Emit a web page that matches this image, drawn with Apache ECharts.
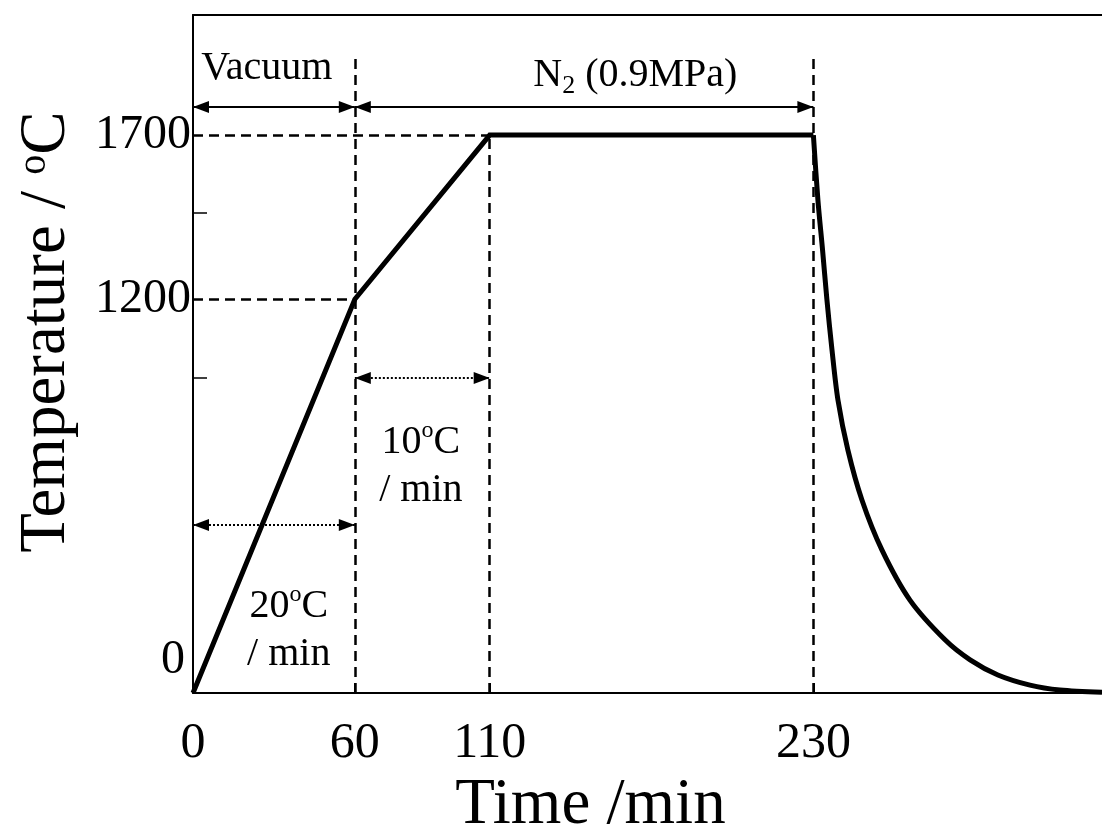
<!DOCTYPE html>
<html>
<head>
<meta charset="utf-8">
<script src="https://cdn.jsdelivr.net/npm/echarts@6/dist/echarts.min.js"></script>
<style>
  html, body { margin: 0; padding: 0; background: #fff; }
  #main { width: 1102px; height: 834px; }
</style>
</head>
<body>
<div id="main"></div>
<script>
// tick labels
var timeTicks = [0, 60, 110, 230];
var tempTicks = [0, 1200, 1700];
var tempMinorTicks = [960, 1462];

// heating: ramp 20 C/min, ramp 10 C/min, hold
var heatTime = [0, 60, 110, 230];
var heatTemp = [0, 1200, 1700, 1700];

// cooling curve
var coolTime = [230, 231.7, 233.4, 235, 236.9, 239.1, 242.8, 248, 255.4, 265.8, 278.8, 288.1, 298.4, 310.3, 321.4, 337];
var coolTemp = [1700, 1500, 1350, 1200, 1045, 893, 740, 588, 436, 283, 162, 101, 55, 24, 9, 2];

// dashed guide lines (from -> to)
var guideX1 = [0, 0, 60, 110, 230];
var guideY1 = [1700, 1200, 0, 0, 0];
var guideX2 = [110, 60, 60, 110, 230];
var guideY2 = [1700, 1200, 1938, 1700, 1944];

// range arrows
var arrowFrom = [0, 60, 60, 0];
var arrowTo = [60, 230, 110, 60];
var arrowTemp = [1786, 1786, 960, 512];
var arrowType = ['solid', 'solid', 'dotted', 'dotted'];

// text notes
var noteText = ['Vacuum', '{n|N}{sub|2}{n| (0.9MPa)}', '{n|10}{sup|o}{n|C}\n{n|/ min}', '{n|20}{sup|o}{n|C}\n{n|/ min}'];
var noteTime = [27.4, 164, 84.5, 35.5];
var noteTemp = [1904, 1883, 690, 190];

var serif = '"Liberation Serif", "Times New Roman", serif';

function pairs(xs, ys) {
    return xs.map(function (x, i) { return [x, ys[i]]; });
}

var guideData = guideX1.map(function (x, i) {
    return [{coord: [x, guideY1[i]]}, {coord: [guideX2[i], guideY2[i]]}];
});

var arrowData = arrowFrom.map(function (x, i) {
    return [
        {coord: [x, arrowTemp[i]], lineStyle: {type: arrowType[i], width: 2}},
        {coord: [arrowTo[i], arrowTemp[i]]}
    ];
});

var noteRich = {
    n: {fontFamily: serif, fontSize: 40, color: '#000', lineHeight: 48},
    sup: {fontFamily: serif, fontSize: 24, color: '#000', verticalAlign: 'top', lineHeight: 48},
    sub: {fontFamily: serif, fontSize: 26, color: '#000', verticalAlign: 'bottom', lineHeight: 40}
};

var chart = echarts.init(document.getElementById('main'));

var option = {
    animation: false,
    backgroundColor: '#fff',
    grid: {left: 193, right: 0, top: 15, bottom: 141, outerBoundsMode: 'none', containLabel: false},
    xAxis: [
        {
            type: 'value',
            min: 0,
            max: 337,
            name: 'Time /min',
            nameLocation: 'middle',
            nameGap: 77,
            nameTextStyle: {fontFamily: serif, fontSize: 65, color: '#000', padding: [0, 114, 0, 0]},
            axisLine: {show: true, lineStyle: {color: '#000', width: 2}},
            axisTick: {show: true, inside: true, length: 10, customValues: [60, 110, 230], lineStyle: {color: '#000', width: 2}},
            axisLabel: {customValues: timeTicks, fontFamily: serif, fontSize: 50, color: '#000', margin: 26},
            splitLine: {show: false}
        },
        {
            type: 'value',
            position: 'top',
            min: 0,
            max: 337,
            axisLine: {show: true, lineStyle: {color: '#000', width: 2}},
            axisTick: {show: false},
            axisLabel: {show: false},
            splitLine: {show: false}
        }
    ],
    yAxis: {
        type: 'value',
        min: 0,
        max: 2066,
        name: 'Temperature / {sup|o}C',
        nameLocation: 'middle',
        nameRotate: 90,
        nameGap: 114,
        nameTextStyle: {
            fontFamily: serif, fontSize: 65, color: '#000', padding: [0, 0, 0, 44],
            rich: {sup: {fontFamily: serif, fontSize: 40, color: '#000', verticalAlign: 'top'}}
        },
        axisLine: {show: true, lineStyle: {color: '#000', width: 2}},
        axisTick: {show: true, inside: true, length: 14, customValues: tempMinorTicks, lineStyle: {color: '#000', width: 1.5}},
        axisLabel: {
            customValues: tempTicks,
            fontFamily: serif, fontSize: 48, color: '#000', margin: 2,
            formatter: function (v) { return v === 0 ? '{zero|0}' : String(v); },
            rich: {zero: {fontFamily: serif, fontSize: 48, color: '#000', padding: [0, 6, 66, 0]}}
        },
        splitLine: {show: false}
    },
    series: [
        {
            name: 'guides',
            type: 'line',
            data: [],
            z: 1,
            markLine: {
                silent: true,
                symbol: 'none',
                label: {show: false},
                lineStyle: {color: '#000', width: 2.5, type: [10, 6]},
                data: guideData
            }
        },
        {
            name: 'arrows',
            type: 'line',
            data: [],
            z: 2,
            markLine: {
                silent: true,
                symbol: ['triangle', 'triangle'],
                symbolSize: [12, 16],
                symbolOffset: [[0, 8], [0, 8]],
                label: {show: false},
                lineStyle: {color: '#000', width: 2, type: 'solid'},
                itemStyle: {color: '#000'},
                data: arrowData
            }
        },
        {
            name: 'heating',
            type: 'line',
            data: pairs(heatTime, heatTemp),
            showSymbol: false,
            z: 3,
            lineStyle: {color: '#000', width: 5, join: 'miter'}
        },
        {
            name: 'cooling',
            type: 'line',
            data: pairs(coolTime, coolTemp),
            showSymbol: false,
            smooth: 0.3,
            z: 3,
            lineStyle: {color: '#000', width: 5}
        },
        {
            name: 'notes',
            type: 'scatter',
            symbolSize: 0,
            z: 4,
            itemStyle: {opacity: 1},
            data: pairs(noteTime, noteTemp).map(function (p, i) {
                return {value: p, label: {formatter: noteText[i]}};
            }),
            label: {
                show: true,
                position: 'inside',
                align: 'center',
                verticalAlign: 'middle',
                fontFamily: serif,
                fontSize: 40,
                color: '#000',
                lineHeight: 48,
                rich: noteRich
            }
        }
    ]
};

chart.setOption(option);
</script>
</body>
</html>
